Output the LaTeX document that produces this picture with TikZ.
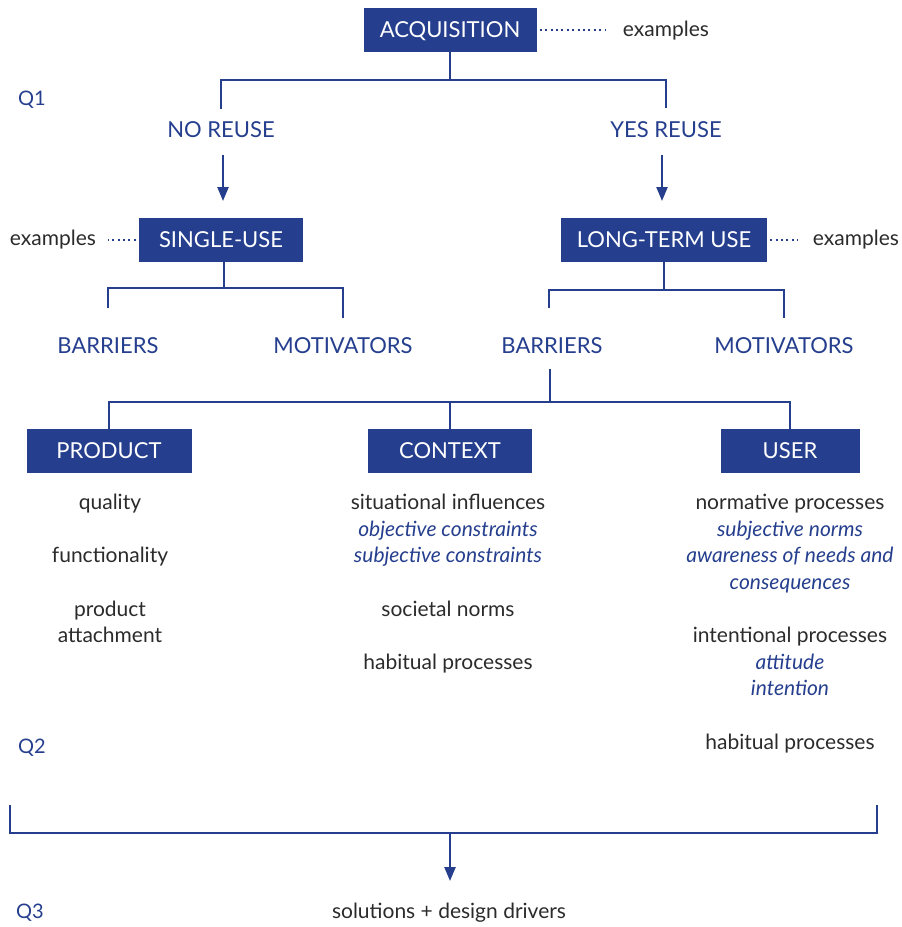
\documentclass[tikz,border=0pt]{standalone}
\usepackage{fontspec}
\setmainfont{Lato}
\usetikzlibrary{arrows.meta}
\definecolor{navy}{HTML}{253F8E}
\definecolor{ink}{HTML}{2B2B2B}

\begin{document}
\begin{tikzpicture}[x=1pt,y=-1pt,
  box/.style={fill=navy,text=white,minimum height=44pt,inner sep=0pt,
    text height=15.8pt,text depth=0pt,font=\fontsize{22}{26}\selectfont},
  lab/.style={text=navy,inner sep=0pt,text height=15.8pt,text depth=0pt,
    font=\fontsize{22}{26}\selectfont},
  txt/.style={text=ink,inner sep=0pt,align=center,font=\fontsize{21}{26.6}\selectfont},
  qlab/.style={text=navy,inner sep=0pt,font=\fontsize{20}{24}\selectfont},
  link/.style={draw=navy,line width=2.4pt},
  arrow/.style={link,-{Triangle[length=14pt,width=11pt]}},
  dots/.style={draw=navy,line width=2pt,dash pattern=on 2pt off 3.4pt}
]
\useasboundingbox (0,0) rectangle (902,927);

% level 1
\node[box,minimum width=173pt] (acq) at (450,30) {ACQUISITION};
\node[txt] (exA) at (666,31) {examples};
\node[lab] (noreuse) at (221,130) {NO REUSE};
\node[lab] (yesreuse) at (666,130) {YES REUSE};
\node[qlab] (q1) at (32,100) {Q1};

% level 2
\node[box,minimum width=164pt] (single) at (221,240) {SINGLE-USE};
\node[box,minimum width=206pt] (long) at (664,240) {LONG-TERM USE};
\node[txt] (exS) at (53,240) {examples};
\node[txt] (exL) at (856,240) {examples};

% level 3
\node[lab] (barS) at (108,346) {BARRIERS};
\node[lab] (motS) at (343,346) {MOTIVATORS};
\node[lab] (barL) at (552,346) {BARRIERS};
\node[lab] (motL) at (784,346) {MOTIVATORS};

% level 4
\node[box,minimum width=165pt] (product) at (109,451) {PRODUCT};
\node[box,minimum width=164pt] (context) at (450,451) {CONTEXT};
\node[box,minimum width=139pt] (user) at (790,451) {USER};

% factor lists
\node[txt,anchor=north] (plist) at (110,494) {quality\\[26.6pt]functionality\\[26.6pt]product\\attachment};
\node[txt,anchor=north] (clist) at (448,494) {situational influences\\
  {\color{navy}\itshape objective constraints}\\
  {\color{navy}\itshape subjective constraints}\\[26.6pt]
  societal norms\\[26.6pt]habitual processes};
\node[txt,anchor=north] (ulist) at (790,494) {normative processes\\
  {\color{navy}\itshape subjective norms}\\
  {\color{navy}\itshape awareness of needs and}\\
  {\color{navy}\itshape consequences}\\[26.6pt]
  intentional processes\\
  {\color{navy}\itshape attitude}\\
  {\color{navy}\itshape intention}\\[26.6pt]
  habitual processes};
\node[qlab] (q2) at (32,748) {Q2};

% outcome
\coordinate (bl) at (10,805);
\coordinate (br) at (877,805);
\coordinate (bmid) at (450,833);
\node[txt] (sol) at (449,913) {solutions + design drivers};
\node[qlab] (q3) at (30,913) {Q3};

% dotted example leaders
\draw[dots] (acq.east) ++(3,0) -- ++(66,0);
\draw[dots] (single.west) ++(-3,0) -- ++(-28,0);
\draw[dots] (long.east) ++(3,0) -- ++(28,0);

% tree connectors
\draw[link] (acq.south) -- (450,80);
\draw[link] (noreuse.north) ++(0,-13) |- (yesreuse.north |- 0,80) -- ++(0,28);
\draw[arrow] (223,155) -- (223,201);
\draw[arrow] (662,155) -- (662,201);

\draw[link] (224,262) -- (224,288);
\draw[link] (barS.north) ++(0,-30) |- (motS.north |- 0,288) -- ++(0,30);
\draw[link] (long.south) -- (664,290);
\draw[link] (barL.north) ++(-3,-30) |- (motL.north |- 0,290) -- ++(0,28);

\draw[link] (barL.south) ++(-2,15) -- (550,402);
\draw[link] (product.north) -- (product.north |- 0,402) -| (user.north);
\draw[link] (context.north) -- (context.north |- 0,402);

\draw[link] (bl) |- (bmid) -| (br);
\draw[arrow] (bmid) -- (450,881);
\end{tikzpicture}
\end{document}
